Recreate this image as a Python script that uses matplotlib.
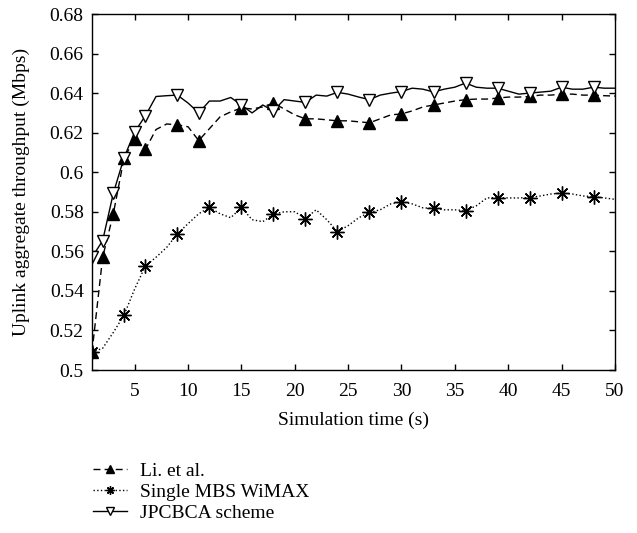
import numpy as np
import matplotlib
matplotlib.use("Agg")
import matplotlib.pyplot as plt

# simulation time (s)
time_s = np.arange(1, 51)

li_et_al = [
    0.509, 0.557, 0.579, 0.607, 0.617, 0.6115, 0.6216, 0.6244, 0.624, 0.623,
    0.616, 0.622, 0.628, 0.6305, 0.6325, 0.632, 0.633, 0.635, 0.632, 0.629,
    0.627, 0.627, 0.6265, 0.626, 0.626, 0.6255, 0.625, 0.627, 0.629, 0.6295,
    0.631, 0.633, 0.634, 0.635, 0.636, 0.6367, 0.637, 0.637, 0.6375, 0.638,
    0.638, 0.6383, 0.639, 0.639, 0.6395, 0.6395, 0.639, 0.639, 0.6387, 0.6385,
]
single_mbs = [
    0.509, 0.511, 0.519, 0.5277, 0.541, 0.5525, 0.557, 0.562, 0.5688, 0.574,
    0.579, 0.5822, 0.579, 0.577, 0.5822, 0.576, 0.575, 0.5788, 0.580, 0.580,
    0.5766, 0.581, 0.576, 0.570, 0.573, 0.577, 0.5797, 0.581, 0.584, 0.585,
    0.584, 0.582, 0.5817, 0.581, 0.581, 0.5805, 0.583, 0.587, 0.5872, 0.587,
    0.587, 0.5872, 0.588, 0.589, 0.5894, 0.589, 0.588, 0.5877, 0.587, 0.5863,
]
jpcbca = [
    0.557, 0.5654, 0.5894, 0.6073, 0.6204, 0.6285, 0.6383, 0.6387, 0.639, 0.635,
    0.630, 0.636, 0.636, 0.6378, 0.634, 0.630, 0.634, 0.631, 0.6367, 0.636,
    0.6353, 0.639, 0.6385, 0.6404, 0.6395, 0.638, 0.6367, 0.639, 0.640, 0.6408,
    0.6425, 0.642, 0.6406, 0.642, 0.643, 0.6451, 0.643, 0.6425, 0.6425, 0.641,
    0.6395, 0.640, 0.6405, 0.641, 0.643, 0.642, 0.642, 0.643, 0.6425, 0.6425,
]

# times where markers are drawn
mark_tri = [1, 2, 3, 4, 5, 6, 9, 11] + list(range(15, 49, 3))
mark_star = [1, 4, 6, 9] + list(range(12, 49, 3))

labels = ["Li. et al.", "Single MBS WiMAX", "JPCBCA scheme"]

plt.rcParams["font.family"] = ["Liberation Serif", "DejaVu Serif"]
plt.rcParams["font.size"] = 14

fig = plt.figure(figsize=(6.37, 5.33), dpi=100)
ax = fig.add_axes([0.1444, 0.3058, 0.821, 0.6679])

tri_idx = [int(t) - 1 for t in mark_tri]
star_idx = [int(t) - 1 for t in mark_star]

ax.plot(time_s, li_et_al, color="black", linestyle=(0, (5, 3)), linewidth=1,
        marker="^", markersize=8, markerfacecolor="black",
        markevery=tri_idx, label=labels[0])
ax.plot(time_s, single_mbs, color="black", linestyle=":", linewidth=1,
        marker=(8, 2, 0), markersize=10, markeredgewidth=1,
        markevery=star_idx, label=labels[1])
ax.plot(time_s, jpcbca, color="black", linestyle="-", linewidth=1,
        marker="v", markersize=8, markerfacecolor="white",
        markevery=tri_idx, label=labels[2])

ax.set_xlim(1, 50)
ax.set_ylim(0.5, 0.68)
ax.set_xticks(np.arange(5, 51, 5))
ax.set_yticks(np.arange(0.5, 0.681, 0.02))
ax.set_yticklabels(["%g" % round(v, 2) for v in np.arange(0.5, 0.681, 0.02)])
ax.tick_params(direction="in", top=True, right=True, length=4, width=1,
               labelsize=14, pad=6)
ax.tick_params(axis="x", pad=9)
for s in ax.spines.values():
    s.set_linewidth(1)

ax.set_xlabel("Simulation time (s)", fontsize=14)
ax.set_ylabel("Uplink aggregate throughput (Mbps)", fontsize=14)
ax.xaxis.set_label_coords(0.5, -0.118)
ax.yaxis.set_label_coords(-0.118, 0.5)

leg = fig.legend(loc="upper left", bbox_to_anchor=(0.146, 0.132), frameon=False,
                 fontsize=14, handlelength=1.75, handletextpad=0.65,
                 labelspacing=0.16, borderpad=0, borderaxespad=0, numpoints=1)
for h in leg.legend_handles:
    h.set_markersize(6)

fig.savefig("out.png", dpi=100)
